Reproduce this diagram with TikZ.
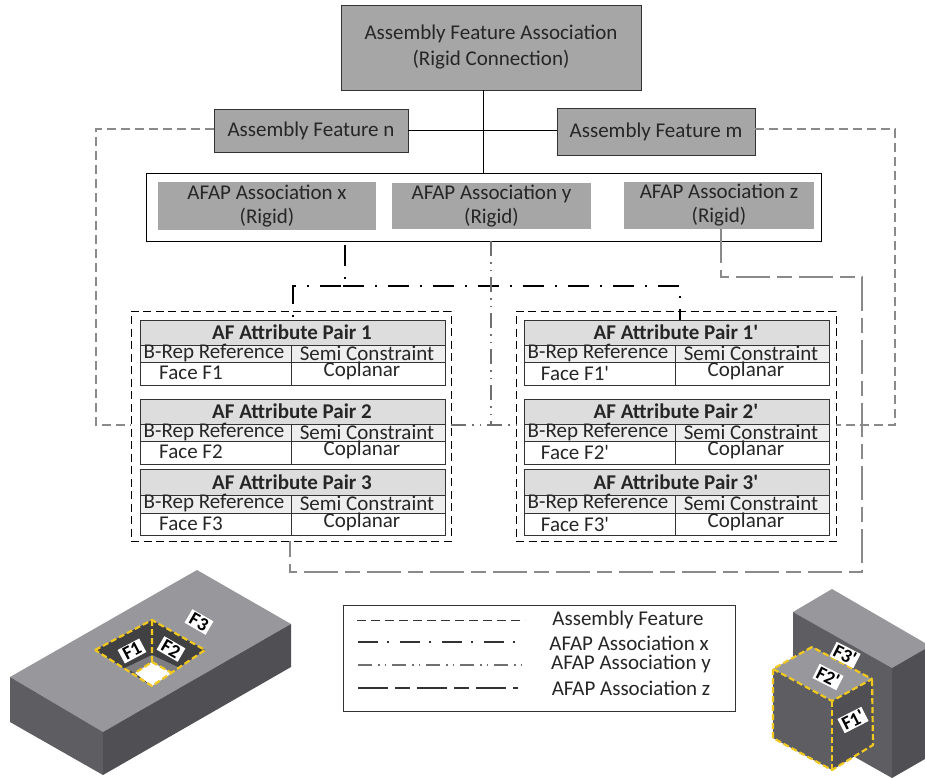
\documentclass[tikz,border=0pt]{standalone}
\usepackage{fontspec}
\setmainfont{Carlito}[Ligatures=TeXOff]
\usetikzlibrary{calc}
\definecolor{boxgray}{HTML}{A6A6A6}
\definecolor{headgray}{HTML}{DDDDDD}
\definecolor{subgray}{HTML}{EEEEEE}
\definecolor{txt}{HTML}{262626}
\definecolor{ink}{HTML}{333333}
\definecolor{linegray}{HTML}{8A8A8A}
\definecolor{ygray}{HTML}{707070}
\definecolor{toptone}{HTML}{98989C}
\definecolor{lefttone}{HTML}{5E5E62}
\definecolor{righttone}{HTML}{505054}
\definecolor{holetone}{HTML}{414144}
\definecolor{yel}{HTML}{F0C81E}
\tikzset{
  every node/.style={text=txt,font=\fontsize{21}{23}\selectfont,align=center,inner sep=0pt,outer sep=0pt},
  graybox/.style={draw=ink,line width=0.9pt,fill=boxgray,anchor=north west},
  softbox/.style={fill=boxgray,anchor=north west},
  whitebox/.style={draw=black,line width=0.9pt,fill=white,anchor=north west},
  cell/.style={draw=ink,line width=1pt,anchor=north west},
  celltext/.style={font=\fontsize{21}{23}\selectfont},
  headtext/.style={font=\fontsize{21}{23}\selectfont\bfseries},
  groupbox/.style={draw=black,line width=0.9pt,dash pattern=on 8pt off 4.5pt,anchor=north west},
  plainline/.style={draw=black,line width=1pt},
  afline/.style={draw=linegray,line width=1.5pt,dash pattern=on 9pt off 5pt},
  xline/.style={draw=black,line width=2.4pt,dash pattern=on 21pt off 11pt on 2pt off 11pt},
  yline/.style={draw=ygray,line width=1.2pt,dash pattern=on 15pt off 6pt on 1.5pt off 6pt on 1.5pt off 6pt},
  zline/.style={draw=linegray,line width=1.5pt,dash pattern=on 34pt off 7pt on 15pt off 7pt},
  keyaf/.style={draw=ink,line width=1pt,dash pattern=on 9pt off 5pt},
  keyx/.style={draw=ink,line width=2.2pt,dash pattern=on 20pt off 9pt on 2pt off 11pt},
  keyy/.style={draw=ygray,line width=1.7pt,dash pattern=on 14pt off 6pt on 1.5pt off 5pt on 1.5pt off 6pt},
  keyz/.style={draw=ink,line width=1.2pt,dash pattern=on 30pt off 7pt on 15pt off 7pt},
  yd/.style={draw=yel,line width=2.2pt,dash pattern=on 6pt off 3pt,line join=round},
  tag/.style={fill=white,text=black,font=\fontsize{19}{21}\selectfont\bfseries,inner xsep=3pt,inner ysep=1.5pt},
}
% #1 name, #2 left x, #3 top y, #4 row-1 y, #5 row-2 y, #6 bottom y, #7 title, #8 face
\newcommand{\pairtable}[8]{%
  \node[cell,fill=headgray,minimum width=305pt,minimum height={(#4-#3)*1pt}] (#1h) at (#2,#3) {};
  \node[cell,fill=subgray,minimum width=151pt,minimum height={(#5-#4)*1pt}] (#1a) at (#2,#4) {};
  \node[cell,fill=subgray,minimum width=154pt,minimum height={(#5-#4)*1pt}] (#1b) at (#2+151,#4) {};
  \node[cell,fill=white,minimum width=151pt,minimum height={(#6-#5)*1pt}] (#1c) at (#2,#5) {};
  \node[cell,fill=white,minimum width=154pt,minimum height={(#6-#5)*1pt}] (#1d) at (#2+151,#5) {};
  \node[headtext] (#1t) at (#2+152,{(#3+#4)/2}) {#7};
  \node[celltext] (#1r) at (#2+74,#4+8) {B-Rep Reference};
  \node[celltext] (#1s) at (#2+227,#4+8.5) {Semi Constraint};
  \node[celltext] (#1f) at (#2+51,#5+11) {#8};
  \node[celltext] (#1p) at (#2+222,#5+9) {Coplanar};
}
\begin{document}
\begin{tikzpicture}[x=1pt,y=-1pt]
\useasboundingbox (0,0) rectangle (925,778);

% top nodes
\node[graybox,minimum width=300pt,minimum height=85pt] (top) at (341,5) {};
\node (toptext) at (491,47.5) {Assembly Feature Association\\[3pt](Rigid Connection)};
\node[graybox,minimum width=194pt,minimum height=43pt] (fn) at (214,109) {Assembly Feature n};
\node[graybox,minimum width=198pt,minimum height=47pt] (fm) at (557,108) {Assembly Feature m};
\node[whitebox,minimum width=675pt,minimum height=68pt] (outer) at (146,173) {};
\node[softbox,minimum width=218pt,minimum height=48pt] (ax) at (158,182) {AFAP Association x\\[1pt](Rigid)};
\node[softbox,minimum width=199pt,minimum height=46pt] (ay) at (392,183) {AFAP Association y\\[1pt](Rigid)};
\node[softbox,minimum width=190pt,minimum height=47pt] (az) at (624,182) {AFAP Association z\\[1pt](Rigid)};

% group boxes and tables
\node[groupbox,minimum width=320pt,minimum height=230pt] (gl) at (131,311) {};
\node[groupbox,minimum width=320pt,minimum height=230pt] (gr) at (516,311) {};
\pairtable{la}{140}{320}{345}{362}{385}{AF Attribute Pair 1}{Face F1}
\pairtable{lb}{140}{399}{424}{441}{464}{AF Attribute Pair 2}{Face F2}
\pairtable{lc}{140}{469}{495}{513}{535}{AF Attribute Pair 3}{Face F3}
\pairtable{ra}{524}{320}{345}{362}{385}{AF Attribute Pair 1'}{Face F1'}
\pairtable{rb}{524}{399}{424}{441}{464}{AF Attribute Pair 2'}{Face F2'}
\pairtable{rc}{524}{469}{495}{513}{535}{AF Attribute Pair 3'}{Face F3'}

% connectors
\draw[plainline] (top.south -| 483,0) -- (outer.north -| 483,0);
\draw[plainline] (fn.east) -- (fm.west |- fn.east);
\draw[afline] (fn.west |- 0,129) -- (96,129) -- (96,425) -- (gl.west |- 0,425);
\draw[afline] (fm.east |- 0,129) -- (895,129) -- (895,425) -- (gr.east |- 0,425);
\coordinate (xstart) at (345,245);
\coordinate (xjoin) at (345,286);
\coordinate (xleft) at (341,286);
\coordinate (xright) at (343,286);
\draw[xline] (xstart) -- (xjoin);
\draw[xline] (xleft) -- (293,286) -- (lah.north -| 293,0);
\draw[xline] (xright) -- (680,286) -- (rah.north -| 680,0);
\draw[yline] (outer.south -| 491,0) -- (491,425);
\draw[yline] (gl.east |- 0,425) -- (gr.west |- 0,425);
\draw[zline] (az.south -| 721,0) -- (721,277) -- (862,277) -- (862,572) -- (290,572) -- (gl.south -| 290,0);

% legend
\node[whitebox,draw=ink,minimum width=392pt,minimum height=106pt] (key) at (343,605) {};
\coordinate (k1a) at (357,620); \coordinate (k1b) at (525,620);
\coordinate (k2a) at (358,642); \coordinate (k2b) at (526,642);
\coordinate (k3a) at (358,665); \coordinate (k3b) at (526,665);
\coordinate (k4a) at (358,688); \coordinate (k4b) at (518,688);
\draw[keyaf] (k1a) -- (k1b);
\draw[keyx] (k2a) -- (k2b);
\draw[keyy] (k3a) -- (k3b);
\draw[keyz] (k4a) -- (k4b);
\node (kt1) at (628,620) {Assembly Feature};
\node (kt2) at (629,643) {AFAP Association x};
\node (kt3) at (631,664) {AFAP Association y};
\node (kt4) at (631,688) {AFAP Association z};

% left part
\fill[toptone] (197,570) -- (291,624) -- (103,732) -- (10,677) -- cycle;
\fill[lefttone] (10,677) -- (103,732) -- (103,775) -- (10,722) -- cycle;
\fill[righttone] (103,732) -- (291,624) -- (291,667) -- (103,775) -- cycle;
\fill[holetone] (95,650) -- (152,620) -- (205,650) -- (152,686) -- cycle;
\fill[toptone!70!holetone] (125,668) -- (135,673) -- (152,662) -- (152,655) -- cycle;
\fill[toptone!70!holetone] (180,668) -- (172,673) -- (152,662) -- (152,655) -- cycle;
\fill[white] (152,662) -- (172,673) -- (152,686) -- (135,673) -- cycle;
\draw[yd] (95,650) -- (152,620) -- (205,650) -- (152,686) -- cycle;
\draw[yd] (152,620) -- (152,662) -- (135,673);
\draw[yd] (152,662) -- (172,673);
\node[tag,rotate=28] (f1) at (132,651) {F1};
\node[tag,rotate=-30] (f2) at (171,649) {F2};
\node[tag,rotate=-30] (f3) at (199,622) {F3};

% right part
\fill[toptone] (832,589) -- (925,643) -- (925,649) -- (892,668) -- (793,612) -- cycle;
\fill[lefttone] (793,612) -- (892,668) -- (892,778) -- (793,722) -- cycle;
\fill[righttone] (892,668) -- (925,649) -- (925,759) -- (892,778) -- cycle;
\fill[toptone] (812,647) -- (773,669) -- (832,701) -- (872,679) -- cycle;
\fill[lefttone] (773,669) -- (832,701) -- (832,770) -- (773,738) -- cycle;
\fill[righttone] (832,701) -- (872,679) -- (873,745) -- (832,770) -- cycle;
\draw[yd] (812,647) -- (773,669) -- (832,701) -- (872,679) -- cycle;
\draw[yd] (773,669) -- (773,738) -- (832,770) -- (873,745) -- (872,679);
\draw[yd] (832,701) -- (832,770);
\node[tag,rotate=-27,inner xsep=2pt] (f3p) at (845,655) {F3'};
\node[tag,rotate=-27,inner xsep=2pt] (f2p) at (828,677) {F2'};
\node[tag,rotate=27,inner xsep=2pt] (f1p) at (853,720) {F1'};
\end{tikzpicture}
\end{document}
